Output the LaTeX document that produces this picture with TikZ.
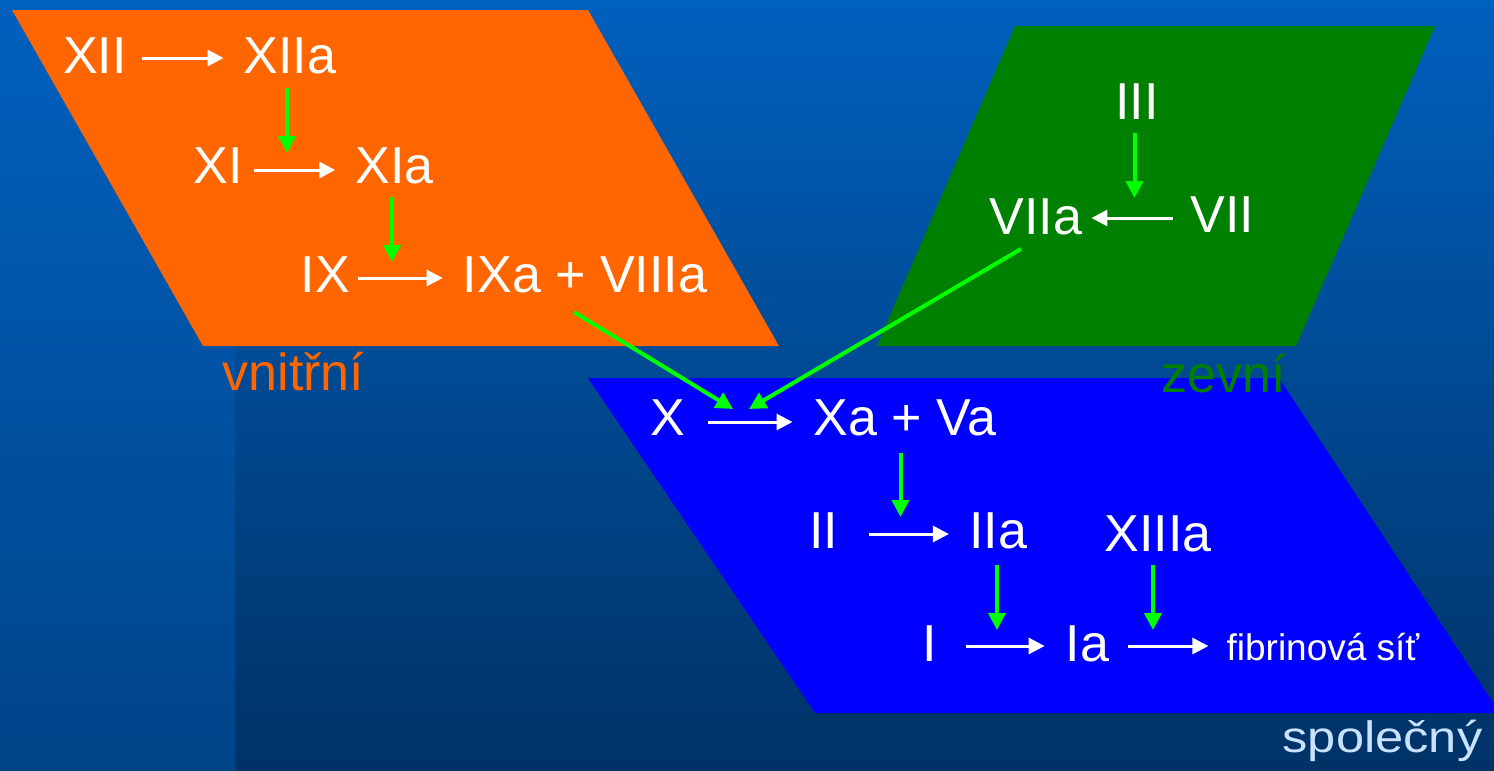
\documentclass[tikz,border=0pt]{standalone}
\usepackage{fontspec}
\usepackage{graphicx}
\setmainfont{Liberation Sans}
\usetikzlibrary{arrows.meta,calc}
\definecolor{bgtop}{RGB}{0,96,190}
\definecolor{bgbot}{RGB}{0,50,102}
\definecolor{stripbot}{RGB}{0,68,136}
\definecolor{orangebox}{RGB}{255,102,0}
\definecolor{greenbox}{RGB}{0,128,0}
\definecolor{bluebox}{RGB}{0,0,255}
\definecolor{arrgreen}{RGB}{0,255,0}
\definecolor{lightblue}{RGB}{200,226,255}
\begin{document}
\begin{tikzpicture}[x=1pt,y=-1pt,
  lbl/.style={text=white,inner sep=0pt,anchor=base,font=\fontsize{52}{60}\selectfont},
  warr/.style={draw=white,line width=3pt,-{Triangle[length=16pt,width=16pt]}},
  garr/.style={draw=arrgreen,line width=4pt,-{Triangle[length=17pt,width=17pt]}},
]
\useasboundingbox (0,0) rectangle (1494,771);
% background
\shade[top color=bgtop,bottom color=bgbot] (0,0) rectangle (1494,771);
\shade[top color=bgtop,bottom color=stripbot] (0,0) rectangle (235,771);
% parallelograms
\fill[orangebox] (12,10) -- (588,10) -- (779,346) -- (203,346) -- cycle;
\fill[greenbox] (1015,26) -- (1435,26) -- (1296,346) -- (877,346) -- cycle;
\fill[bluebox] (588,378) -- (1279,378) -- (1500,713) -- (815,713) -- cycle;
% intrinsic
\node[lbl] (xii) at (95,73) {XII};
\node[lbl] (xiia) at (290,73) {XIIa};
\node[lbl] (xi) at (218.5,183) {XI};
\node[lbl] (xia) at (394.5,183) {XIa};
\node[lbl] (ix) at (325.5,292) {IX};
\node[lbl] (ixa) at (585,292) {IXa + VIIIa};
\node[lbl,text=orangebox] (vnitrni) at (293.5,390) {vnitřní};
% extrinsic
\node[lbl] (iii) at (1137,119) {III};
\node[lbl] (viia) at (1036,234) {VIIa};
\node[lbl] (vii) at (1222.5,232) {VII};
\node[lbl,text=greenbox] (zevni) at (1224,392) {zevní};
% common
\node[lbl] (x) at (668,435) {X};
\node[lbl] (xa) at (905,435) {Xa + Va};
\node[lbl] (ii) at (823.5,548) {II};
\node[lbl] (iia) at (998,548) {IIa};
\node[lbl] (xiiia) at (1158,551) {XIIIa};
\node[lbl] (i) at (930,661) {I};
\node[lbl] (ia) at (1087.5,661) {Ia};
\node[lbl,font=\fontsize{37}{44}\selectfont] (fib) at (1323,660) {fibrinová síť};
\node[lbl,text=lightblue,font=\fontsize{44}{50}\selectfont] (spol) at (1382.5,752) {\scalebox{1.15}[1]{společný}};
% white arrows
\draw[warr] ($(xii.base east)+(15,-15)$) -- ($(xiia.base west)+(-20,-15)$);
\draw[warr] ($(xi.base east)+(11,-13)$) -- ($(xia.base west)+(-20,-13)$);
\draw[warr] ($(ix.base east)+(8,-14)$) -- ($(ixa.base west)+(-20,-14)$);
\draw[warr] ($(vii.base west)+(-18,-14)$) -- ($(viia.base east)+(9,-16)$);
\draw[warr] ($(x.base east)+(22,-13)$) -- ($(xa.base west)+(-21,-13)$);
\draw[warr] ($(ii.base east)+(31,-14)$) -- ($(iia.base west)+(-20,-14)$);
\draw[warr] ($(i.base east)+(29,-15)$) -- ($(ia.base west)+(-21,-15)$);
\draw[warr] ($(ia.base east)+(19,-15)$) -- ($(fib.base west)+(-18,-14)$);
% green arrows
\draw[garr] ($(xiia.base)+(-3,15)$) -- ($(xiia.base)+(-3,80)$);
\draw[garr] ($(xia.base)+(-2.5,14)$) -- ($(xia.base)+(-2.5,79)$);
\draw[garr] ($(iii.base)+(-2.5,14)$) -- ($(iii.base)+(-2.5,79)$);
\draw[garr] ($(xa.base)+(-4.5,18)$) -- ($(xa.base)+(-4.5,82)$);
\draw[garr] ($(iia.base)+(-1,17)$) -- ($(iia.base)+(-1,82)$);
\draw[garr] ($(xiiia.base)+(-5,14)$) -- ($(xiiia.base)+(-5,79)$);
\draw[garr] ($(ixa.base)+(-11,20)$) -- ($(x.base)+(65,-26)$);
\draw[garr] ($(viia.base)+(-15,15)$) -- ($(x.base)+(81,-26)$);
\end{tikzpicture}
\end{document}
